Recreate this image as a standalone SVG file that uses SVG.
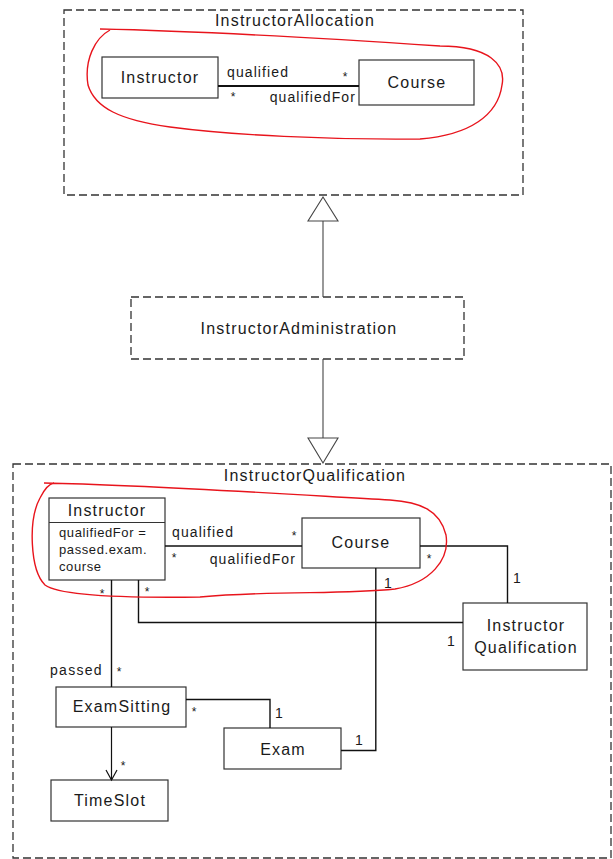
<svg xmlns="http://www.w3.org/2000/svg" width="613" height="859" viewBox="0 0 613 859">
  <style>
    .pkg { fill: none; stroke: #333; stroke-width: 1.3; stroke-dasharray: 8 4; }
    .box { fill: #fff; stroke: #333; stroke-width: 1.2; }
    .line { fill: none; stroke: #111; stroke-width: 1.4; }
    .gen { fill: none; stroke: #444; stroke-width: 1.1; }
    .tri { fill: #fff; stroke: #444; stroke-width: 1.1; }
    .mark { fill: none; stroke: #e8141c; stroke-width: 1.4; }
    text { font-family: "Liberation Sans", Arial, sans-serif; fill: #1a1a1a; }
    .name { font-size: 16px; letter-spacing: 1.2px; text-anchor: middle; }
    .role { font-size: 14px; letter-spacing: 1.1px; }
    .attr { font-size: 13px; letter-spacing: 0.6px; }
    .star { font-size: 12px; text-anchor: middle; }
    .one { font-size: 14px; text-anchor: middle; }
  </style>

  <!-- Package: InstructorAllocation -->
  <g id="pkg-allocation">
    <rect class="pkg" x="64" y="10" width="459" height="185"/>
    <text class="name" x="295" y="26">InstructorAllocation</text>
  </g>
  <g id="alloc-instructor">
    <rect class="box" x="102" y="57" width="116" height="41"/>
    <text class="name" x="160" y="83">Instructor</text>
  </g>
  <g id="alloc-course">
    <rect class="box" x="359" y="60" width="115" height="45"/>
    <text class="name" x="417" y="88">Course</text>
  </g>

  <!-- Package: InstructorAdministration -->
  <g id="pkg-administration">
    <rect class="pkg" x="131" y="297" width="333" height="62"/>
    <text class="name" x="299" y="334">InstructorAdministration</text>
  </g>

  <!-- Package: InstructorQualification -->
  <g id="pkg-qualification">
    <rect class="pkg" x="13" y="464" width="598" height="394"/>
    <text class="name" x="315" y="481">InstructorQualification</text>
  </g>
  <g id="qual-instructor">
    <rect class="box" x="49" y="498" width="116" height="82"/>
    <line class="box" x1="49" y1="522.5" x2="165" y2="522.5"/>
    <text class="name" x="107" y="516">Instructor</text>
    <text class="attr" x="59" y="537">qualifiedFor =</text>
    <text class="attr" x="59" y="554">passed.exam.</text>
    <text class="attr" x="59" y="571">course</text>
  </g>
  <g id="qual-course">
    <rect class="box" x="302" y="518" width="118" height="50"/>
    <text class="name" x="361" y="548">Course</text>
  </g>
  <g id="qual-instructorqualification">
    <rect class="box" x="463" y="603" width="124" height="67"/>
    <text class="name" x="526" y="631">Instructor</text>
    <text class="name" x="526" y="653">Qualification</text>
  </g>
  <g id="qual-examsitting">
    <rect class="box" x="56" y="687" width="130" height="40"/>
    <text class="name" x="122" y="712">ExamSitting</text>
  </g>
  <g id="qual-exam">
    <rect class="box" x="224" y="728" width="117" height="41"/>
    <text class="name" x="283" y="755">Exam</text>
  </g>
  <g id="qual-timeslot">
    <rect class="box" x="51" y="780" width="117" height="41"/>
    <text class="name" x="110" y="806">TimeSlot</text>
  </g>

  <!-- Connectors -->
  <g id="connectors">
    <!-- generalizations -->
    <line class="gen" x1="323" y1="297" x2="323" y2="221"/>
    <polygon class="tri" points="323,197 308,221 338,221"/>
    <line class="gen" x1="323" y1="359" x2="323" y2="438"/>
    <polygon class="tri" points="323,463 308,438 338,438"/>

    <!-- InstructorAllocation: Instructor - Course -->
    <line class="line" x1="218" y1="86" x2="359" y2="86" style="stroke-width:2"/>
    <text class="role" x="227" y="77">qualified</text>
    <text class="role" x="356" y="102" text-anchor="end">qualifiedFor</text>
    <text class="star" x="345" y="81">*</text>
    <text class="star" x="233" y="101">*</text>

    <!-- InstructorQualification: Instructor - Course -->
    <line class="line" x1="165" y1="546" x2="302" y2="546"/>
    <text class="role" x="172" y="537">qualified</text>
    <text class="role" x="296" y="564" text-anchor="end">qualifiedFor</text>
    <text class="star" x="294" y="540">*</text>
    <text class="star" x="174" y="562">*</text>

    <!-- Course - InstructorQualification -->
    <polyline class="line" points="420,546 507.5,546 507.5,603"/>
    <text class="star" x="429" y="563">*</text>
    <text class="one" x="517" y="583">1</text>

    <!-- Instructor - InstructorQualification -->
    <polyline class="line" points="138.5,580 138.5,622.5 463,622.5"/>
    <text class="star" x="147" y="596">*</text>
    <text class="one" x="451" y="646">1</text>

    <!-- Instructor - ExamSitting (passed) -->
    <line class="line" x1="111.5" y1="580" x2="111.5" y2="687"/>
    <text class="star" x="102" y="598">*</text>
    <text class="role" x="50" y="675" style="letter-spacing:1.3px">passed</text>
    <text class="star" x="119" y="676">*</text>

    <!-- ExamSitting - Exam -->
    <polyline class="line" points="186,699.5 270,699.5 270,728"/>
    <text class="star" x="194" y="716">*</text>
    <text class="one" x="279" y="718">1</text>

    <!-- Exam - Course -->
    <polyline class="line" points="341,750.5 375.8,750.5 375.8,568"/>
    <text class="one" x="359" y="745">1</text>
    <text class="one" x="388" y="588">1</text>

    <!-- ExamSitting -> TimeSlot (navigable) -->
    <line class="line" x1="111.5" y1="727" x2="111.5" y2="780" style="stroke-width:1.2"/>
    <polyline class="line" points="106,770 111.5,780 117,770" style="stroke-width:1.2"/>
    <text class="star" x="123" y="770">*</text>
  </g>

  <!-- Hand-drawn highlight loops -->
  <g id="highlights">
    <path class="mark" d="M100,29 C200,31 350,40 440,46 C490,46 506,65 502,85 C498,115 470,135 420,139 C330,140 230,135 170,127 C120,120 95,108 88,85 C84,60 95,38 110,30"/>
    <path class="mark" d="M44,483 C150,485 300,495 390,500 C420,502 440,510 446,535 C450,560 430,583 395,589 C340,595 280,590 200,597 C130,598 60,596 45,585 C30,570 28,520 40,498 C44,490 48,484 54,483"/>
  </g>
</svg>
